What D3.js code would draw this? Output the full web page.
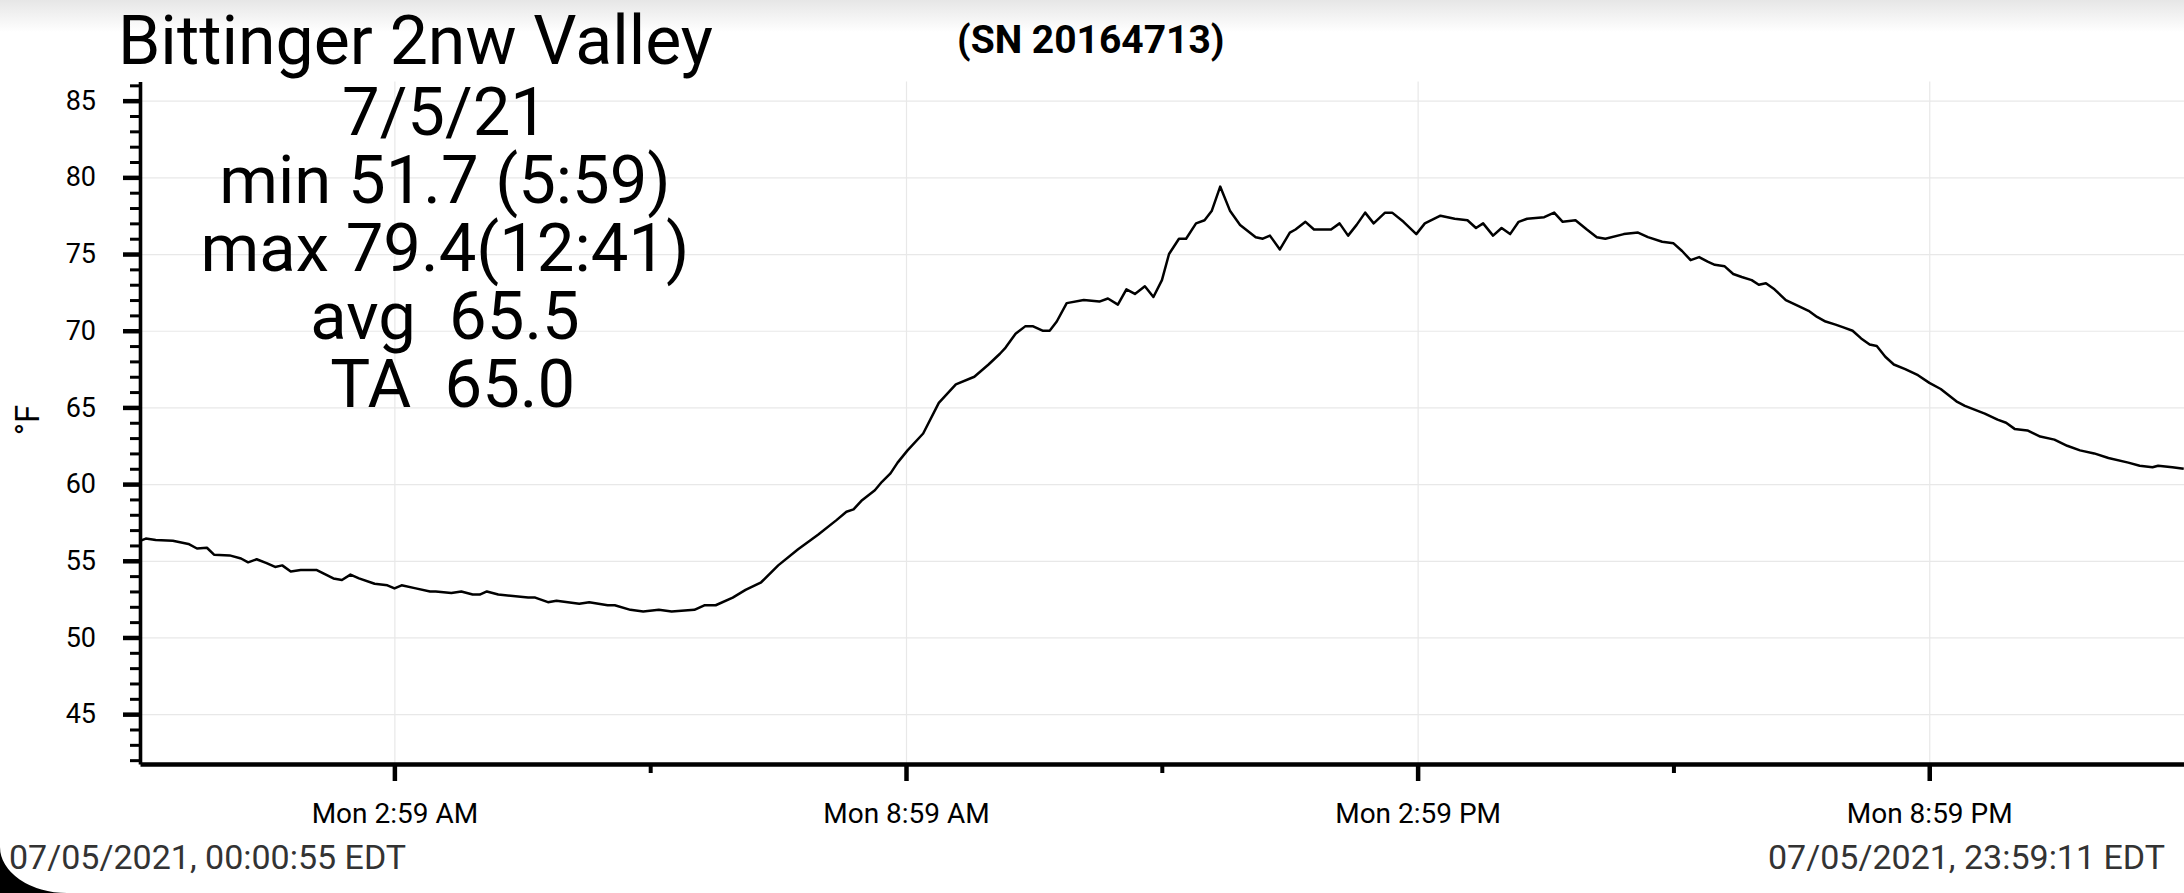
<!DOCTYPE html>
<html>
<head>
<meta charset="utf-8">
<script src="https://d3js.org/d3.v7.min.js"></script>
<style>
  body { margin: 0; background: #fff; }
  svg { display: block; font-family: Roboto, "Noto Sans", sans-serif; }
  .axis text { font-family: Roboto, sans-serif; fill: #000; }
  .y-axis text { font-size: 27px; }
  .x-axis text { font-size: 28px; }
  .grid line { stroke: #e8e8e8; stroke-width: 1.2; }
  .grid path { display: none; }
</style>
</head>
<body>
<div id="chart"></div>
<script>
// Logger readings, 7/5/21
var times = [
  "00:01","00:05","00:12","00:24","00:35","00:41","00:48","00:53","01:04","01:12",
  "01:17","01:23","01:30","01:36","01:41","01:47","01:54","02:05","02:17","02:23",
  "02:29","02:35","02:46","02:55","03:00","03:05","03:15","03:25","03:29","03:40",
  "03:47","03:55","04:00","04:05","04:13","04:34","04:39","04:48","04:54","05:10",
  "05:17","05:30","05:35","05:46","05:55","06:06","06:15","06:31","06:38","06:46",
  "06:58","07:07","07:18","07:30","07:44","07:58","08:11","08:18","08:23","08:29",
  "08:38","08:43","08:49","08:54","09:01","09:12","09:23","09:35","09:48","09:58",
  "10:06","10:10","10:17","10:24","10:29","10:36","10:41","10:46","10:53","11:05",
  "11:16","11:22","11:29","11:35","11:41","11:48","11:54","12:00","12:05","12:12",
  "12:17","12:24","12:30","12:35","12:41","12:48","12:55","13:06","13:11","13:16",
  "13:23","13:30","13:34","13:41","13:47","13:59","14:05","14:11","14:17","14:23",
  "14:29","14:37","14:42","14:50","14:59","15:05","15:16","15:26","15:35","15:41",
  "15:46","15:53","15:59","16:05","16:11","16:17","16:29","16:36","16:42","16:51",
  "16:59","17:06","17:12","17:25","17:35","17:42","17:52","18:00","18:06","18:12",
  "18:18","18:24","18:29","18:36","18:42","18:48","18:55","19:00","19:05","19:11",
  "19:19","19:28","19:35","19:41","19:47","19:54","20:00","20:06","20:12","20:18",
  "20:23","20:29","20:35","20:43","20:52","21:00","21:08","21:19","21:25","21:39",
  "21:48","21:54","22:00","22:09","22:18","22:28","22:37","22:46","22:56","23:06",
  "23:20","23:28","23:37","23:41","23:51","23:59"
];

var temps = [
  56.3,56.45,56.35,56.3,56.1,55.8,55.85,55.4,55.35,55.15,
  54.9,55.1,54.85,54.6,54.7,54.3,54.4,54.4,53.85,53.75,
  54.1,53.85,53.5,53.4,53.2,53.4,53.2,53.0,53.0,52.9,
  53.0,52.8,52.8,53.0,52.8,52.6,52.6,52.3,52.4,52.2,
  52.3,52.1,52.1,51.8,51.7,51.8,51.7,51.8,52.1,52.1,
  52.6,53.1,53.6,54.7,55.75,56.7,57.65,58.2,58.35,58.95,
  59.6,60.15,60.7,61.4,62.2,63.3,65.3,66.5,67.0,67.8,
  68.5,68.9,69.8,70.3,70.3,70.0,70.0,70.6,71.8,72.0,
  71.9,72.1,71.7,72.7,72.4,72.9,72.2,73.3,75.0,76.0,
  76.0,77.0,77.2,77.8,79.4,77.8,76.9,76.1,76.0,76.2,
  75.3,76.4,76.6,77.1,76.6,76.6,77.0,76.2,76.9,77.7,
  77.0,77.7,77.7,77.1,76.3,77.0,77.5,77.3,77.2,76.7,
  77.0,76.2,76.7,76.3,77.1,77.3,77.4,77.7,77.1,77.2,
  76.6,76.1,76.0,76.3,76.4,76.1,75.8,75.7,75.2,74.6,
  74.8,74.5,74.3,74.2,73.7,73.5,73.3,73.0,73.1,72.7,
  72.0,71.6,71.3,70.9,70.6,70.4,70.2,70.0,69.5,69.1,
  69.0,68.3,67.8,67.5,67.1,66.6,66.2,65.4,65.1,64.6,
  64.2,64.0,63.6,63.5,63.1,62.9,62.5,62.2,62.0,61.7,
  61.4,61.2,61.1,61.2,61.1,61.0
];

var yMajorTicks = [45, 50, 55, 60, 65, 70, 75, 80, 85];
var xMajorTicks = ["02:59:55", "08:59:55", "14:59:55", "20:59:55"];
var xMinorTicks = ["05:59:55", "11:59:55", "17:59:55"];
var timeRange = ["00:00:55", "23:59:11"];
var tempRange = [41.75, 86.25];

var titleText = "Bittinger 2nw Valley";
var serialText = "(SN 20164713)";
var statLines = ["7/5/21", "min 51.7 (5:59)", "max 79.4(12:41)", "avg  65.5", " TA  65.0"];
var startStamp = "07/05/2021, 00:00:55 EDT";
var endStamp = "07/05/2021, 23:59:11 EDT";

var W = 2184, H = 893;
var margin = {top: 81.5, right: 0, bottom: 129, left: 140};

var parseMin = d3.timeParse("%Y-%m-%d %H:%M");
var parseSec = d3.timeParse("%Y-%m-%d %H:%M:%S");
var day = "2021-07-05 ";

var data = times.map(function(t, i) {
  return {time: parseMin(day + t), temp: temps[i]};
});

var svg = d3.select("#chart").append("svg")
  .attr("width", W)
  .attr("height", H);

// faint shade along the top edge
var grad = svg.append("defs").append("linearGradient")
  .attr("id", "topShade").attr("x1", 0).attr("y1", 0).attr("x2", 0).attr("y2", 1);
grad.append("stop").attr("offset", "0%").attr("stop-color", "#e6e6e6");
grad.append("stop").attr("offset", "100%").attr("stop-color", "#ffffff");
svg.append("rect").attr("x", 0).attr("y", 0).attr("width", W).attr("height", 32)
  .attr("fill", "url(#topShade)");

// Scales
var x = d3.scaleTime()
  .domain(timeRange.map(function(t) { return parseSec(day + t); }))
  .range([margin.left, W - margin.right]);

var y = d3.scaleLinear()
  .domain(tempRange)
  .range([H - margin.bottom, margin.top]);

var xMajor = xMajorTicks.map(function(t) { return parseSec(day + t); });
var xMinor = xMinorTicks.map(function(t) { return parseSec(day + t); });

// Gridlines
svg.append("g")
  .attr("class", "grid")
  .attr("transform", "translate(" + margin.left + ",0)")
  .call(d3.axisLeft(y).tickValues(yMajorTicks).tickSize(-(W - margin.left)).tickFormat(""));

svg.append("g")
  .attr("class", "grid")
  .attr("transform", "translate(0," + (H - margin.bottom) + ")")
  .call(d3.axisBottom(x).tickValues(xMajor).tickSize(-(H - margin.bottom - margin.top)).tickFormat(""));

// Temperature line
var line = d3.line()
  .x(function(d) { return x(d.time); })
  .y(function(d) { return y(d.temp); });

svg.append("path")
  .datum(data)
  .attr("fill", "none")
  .attr("stroke", "#000")
  .attr("stroke-width", 2.5)
  .attr("stroke-linejoin", "round")
  .attr("d", line);

// Y axis: minor ticks every degree, major every 5
var yMinor = d3.range(Math.ceil(tempRange[0]), Math.floor(tempRange[1]) + 1)
  .filter(function(v) { return v % 5 !== 0; });

svg.append("g")
  .attr("class", "axis y-axis")
  .attr("transform", "translate(" + margin.left + ",0)")
  .call(d3.axisLeft(y).tickValues(yMinor).tickSize(10).tickSizeOuter(0).tickFormat(""))
  .call(function(g) {
    g.select(".domain").remove();
    g.selectAll(".tick line").attr("stroke", "#000").attr("stroke-width", 3);
  });

svg.append("g")
  .attr("class", "axis y-axis")
  .attr("transform", "translate(" + margin.left + ",0)")
  .call(d3.axisLeft(y).tickValues(yMajorTicks).tickSize(17).tickSizeOuter(0).tickPadding(27))
  .call(function(g) {
    g.select(".domain").attr("stroke", "#000").attr("stroke-width", 3.6);
    g.selectAll(".tick line").attr("stroke", "#000").attr("stroke-width", 4.5);
  });

// X axis
svg.append("g")
  .attr("class", "axis x-axis")
  .attr("transform", "translate(0," + (H - margin.bottom) + ")")
  .call(d3.axisBottom(x).tickValues(xMinor).tickSize(9).tickSizeOuter(0).tickFormat(""))
  .call(function(g) {
    g.select(".domain").remove();
    g.selectAll(".tick line").attr("stroke", "#000").attr("stroke-width", 4);
  });

svg.append("g")
  .attr("class", "axis x-axis")
  .attr("transform", "translate(0," + (H - margin.bottom) + ")")
  .call(d3.axisBottom(x).tickValues(xMajor).tickSize(17).tickSizeOuter(0).tickPadding(22)
    .tickFormat(d3.timeFormat("Mon %-I:%M %p")))
  .call(function(g) {
    g.select(".domain").attr("stroke", "#000").attr("stroke-width", 4.3);
    g.selectAll(".tick line").attr("stroke", "#000").attr("stroke-width", 4.5);
  });

// Unit label
svg.append("text")
  .attr("transform", "translate(39,420) rotate(-90)")
  .attr("text-anchor", "middle")
  .style("font-size", "33px")
  .text("°F");

// Title and serial number
svg.append("text")
  .attr("x", 118)
  .attr("y", 64)
  .style("font-size", "68px")
  .text(titleText);

svg.append("text")
  .attr("x", 957)
  .attr("y", 53)
  .style("font-size", "39px")
  .style("font-weight", "bold")
  .text(serialText);

// Daily summary block
svg.append("g")
  .selectAll("text")
  .data(statLines)
  .enter()
  .append("text")
  .attr("x", 445)
  .attr("y", function(d, i) { return 135 + i * 68; })
  .attr("text-anchor", "middle")
  .style("font-size", "67px")
  .style("white-space", "pre")
  .text(function(d) { return d; });

// Start / end stamps
svg.append("text")
  .attr("x", 9)
  .attr("y", 869)
  .attr("fill", "#333")
  .style("font-size", "34px")
  .text(startStamp);

svg.append("text")
  .attr("x", 2165)
  .attr("y", 869)
  .attr("text-anchor", "end")
  .attr("fill", "#333")
  .style("font-size", "34px")
  .text(endStamp);

// screen corner in the bottom left
svg.append("path")
  .attr("d", "M0,847 A67,46 0 0 0 67,893 L0,893 Z")
  .attr("fill", "#000");
</script>
</body>
</html>
